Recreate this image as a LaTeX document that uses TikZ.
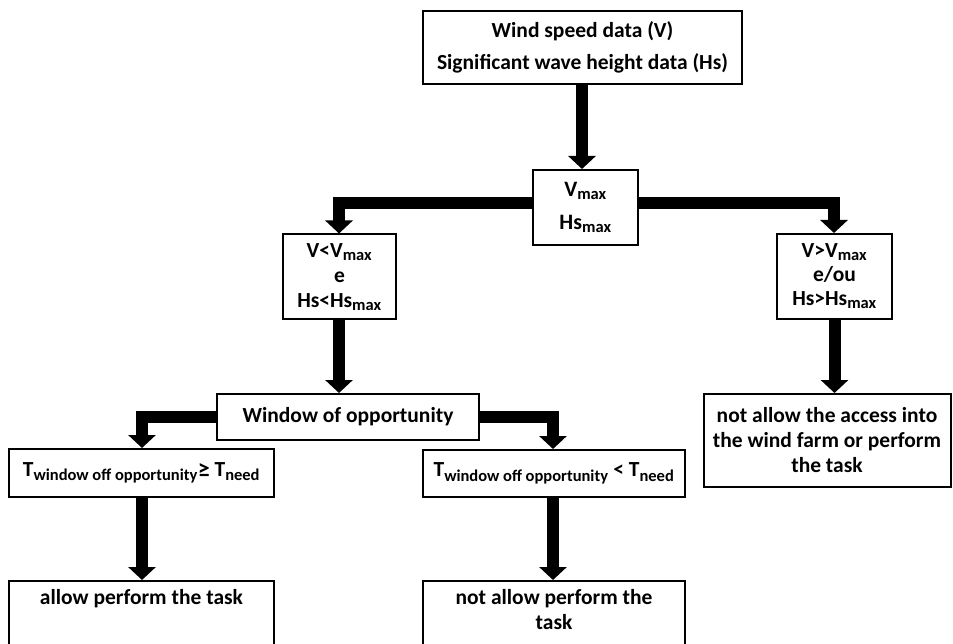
\documentclass[tikz,border=0pt]{standalone}
\usepackage{fontspec}
\setmainfont{Carlito}
\usetikzlibrary{arrows.meta}
\tikzset{
  box/.style={draw=black, line width=2pt, fill=white, inner sep=0pt, align=center,
    font=\bfseries\fontsize{21.5}{32}\selectfont},
  txt/.style={inner sep=0pt, align=center, font=\bfseries\fontsize{21.5}{25}\selectfont},
  flow/.style={line width=12pt, line join=miter, line cap=butt,
    -{Triangle[width=27pt,length=13pt]}},
}
\newcommand{\sub}[1]{\textsubscript{\fontsize{16.5}{16.5}\selectfont #1}}
\newcommand{\bigge}{\raisebox{-1pt}{\fontsize{24}{24}\selectfont ≥}}
\begin{document}
\begin{tikzpicture}[x=1pt,y=-1pt]
\useasboundingbox (0,0) rectangle (953,644);
% boxes
\node[box, minimum width=319pt, minimum height=73pt] (top) at (582.5,47.5)
  {Wind speed data (V)\\Significant wave height data (Hs)};
\node[box, minimum width=105pt, minimum height=75pt, font=\bfseries\fontsize{22}{33}\selectfont] (vmax) at (585.5,207.5)
  {V\sub{max}\\Hs\sub{max}};
\node[box, minimum width=113pt, minimum height=85pt, font=\bfseries\fontsize{21.5}{25}\selectfont] (lt) at (339.5,277)
  {V<V\sub{max}\\e\\Hs<Hs\sub{max}};
\node[box, minimum width=115pt, minimum height=85pt, font=\bfseries\fontsize{21.5}{24}\selectfont] (gt) at (834.5,276.5)
  {V>V\sub{max}\\e/ou\\Hs>Hs\sub{max}};
\node[box, minimum width=247pt, minimum height=93pt, font=\bfseries\fontsize{21.5}{25}\selectfont] (na) at (827,440.5)
  {not allow the access into\\the wind farm or perform\\the task};
\node[box, minimum width=262pt, minimum height=46pt] (win) at (348,417)
  {Window of opportunity};
\node[box, minimum width=265pt, minimum height=48pt] (t1) at (141.5,473)
  {T\sub{window off opportunity}\bigge\ T\sub{need}};
\node[box, minimum width=262pt, minimum height=47pt] (t2) at (554,473.5)
  {T\sub{window off opportunity} < T\sub{need}};
\node[box, minimum width=265pt, minimum height=90pt, anchor=north] (a1) at (141.5,580) {};
\node[box, minimum width=262pt, minimum height=90pt, anchor=north] (a2) at (554,580) {};
\node[txt, anchor=base] (a1t) at (141.5,604) {allow perform the task};
\node[txt, anchor=base] (a2t) at (554,629) {not allow perform the\\task};
% connectors
\draw[flow] (top.south -| 582,0) -- (vmax.north -| 582,0);
\draw[flow] (vmax.west |- 0,203) -| (lt.north -| 339,0);
\draw[flow] (vmax.east |- 0,203) -| (gt.north -| 834,0);
\draw[flow] (lt.south -| 339,0) -- (win.north -| 339,0);
\draw[flow] (gt.south) -- (gt.south |- na.north);
\draw[flow] (win.west |- 0,417) -| (t1.north -| 142,0);
\draw[flow] (win.east |- 0,417) -| (t2.north -| 553,0);
\draw[flow] (t1.south -| 142,0) -- (a1.north -| 142,0);
\draw[flow] (t2.south -| 553,0) -- (a2.north -| 553,0);
\end{tikzpicture}
\end{document}
